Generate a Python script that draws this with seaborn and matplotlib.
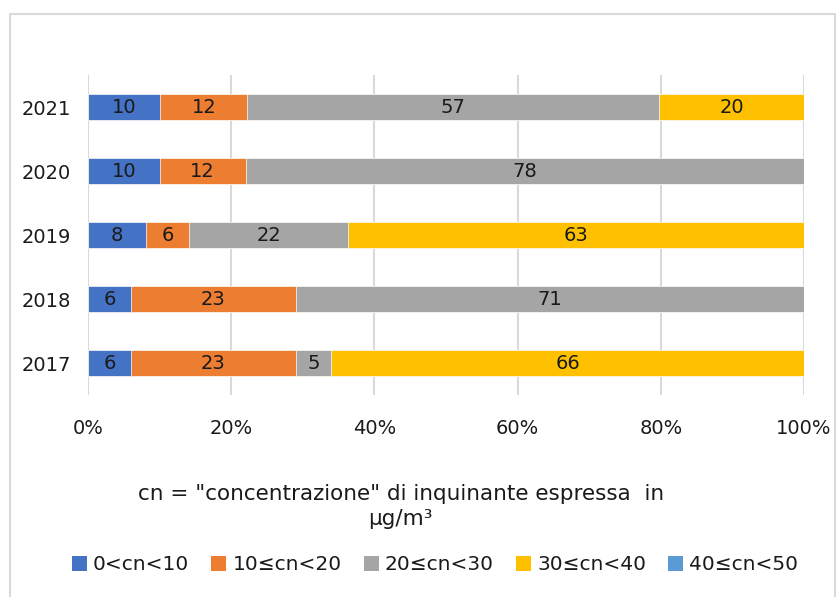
import numpy as np
import pandas as pd
import matplotlib
matplotlib.use("Agg")
import matplotlib.pyplot as plt
from matplotlib.patches import Rectangle, Patch
import seaborn as sns

# Data (counts per concentration class, shown as share of the year)
years = ["2021", "2020", "2019", "2018", "2017"]
classes = ["0<cn<10", "10≤cn<20", "20≤cn<30", "30≤cn<40", "40≤cn<50"]
c_0_10 = [10, 10, 8, 6, 6]
c_10_20 = [12, 12, 6, 23, 23]
c_20_30 = [57, 78, 22, 71, 5]
c_30_40 = [20, 0, 63, 0, 66]
c_40_50 = [0, 0, 0, 0, 0]
colors = ["#4472C4", "#ED7D31", "#A5A5A5", "#FFC000", "#5B9BD5"]

sns.set_theme(style="white")
plt.rcParams["font.family"] = ["DejaVu Sans"]
txt = "#1A1A1A"

vals = np.array([c_0_10, c_10_20, c_20_30, c_30_40, c_40_50], dtype=float)
totals = vals.sum(axis=0)
pct = vals / totals * 100
cum = np.cumsum(pct, axis=0)

fig = plt.figure(figsize=(8.4, 5.97), dpi=100)
ax = fig.add_axes([0.1048, 0.338, 0.8524, 0.536])

# draw cumulative bars from the outermost segment inward so they stack
for i in range(len(classes) - 1, -1, -1):
    df = pd.DataFrame({"Anno": years, "cum": cum[i]})
    sns.barplot(data=df, x="cum", y="Anno", orient="h", color=colors[i],
                width=0.41, saturation=1, ax=ax, zorder=3,
                edgecolor="white", linewidth=0.5)

# segment labels
for i in range(len(classes)):
    for j, y in enumerate(years):
        if vals[i, j] > 0:
            ax.text(cum[i, j] - pct[i, j] / 2, j, f"{int(vals[i, j])}",
                    ha="center", va="center", fontsize=14, color=txt, zorder=4)

ax.set_xlim(0, 100)
ax.set_ylim(4.5, -0.5)
ax.set_xticks([0, 20, 40, 60, 80, 100])
ax.set_xticklabels([f"{t}%" for t in [0, 20, 40, 60, 80, 100]])
ax.grid(axis="x", color="#D9D9D9", linewidth=1.5, zorder=0)
ax.set_axisbelow(True)
for s in ax.spines.values():
    s.set_visible(False)
ax.tick_params(axis="both", length=0, labelsize=14, colors=txt)
ax.tick_params(axis="x", pad=17)
ax.tick_params(axis="y", pad=12)
for lbl in ax.get_yticklabels():
    lbl.set_verticalalignment("center_baseline")
ax.set_xlabel("")
ax.set_ylabel("")

fig.text(0.477, 0.151, "cn = \"concentrazione\" di inquinante espressa  in\nµg/m³",
         ha="center", va="center", fontsize=15.5, color=txt, linespacing=1.3)

handles = [Patch(facecolor=c, edgecolor="none") for c in colors]
fig.legend(handles, classes, loc="center", bbox_to_anchor=(0.518, 0.054), ncol=5,
           frameon=False, fontsize=14.5, handlelength=0.75, handleheight=0.75,
           handletextpad=0.3, columnspacing=1.1, labelcolor=txt)

# outer chart border
fig.patches.append(Rectangle((10 / 840, -0.05), 825 / 840, 1.05 - 14 / 597,
                             transform=fig.transFigure, fill=False,
                             edgecolor="#D9D9D9", linewidth=1.5))

fig.savefig("out.png", dpi=100)
